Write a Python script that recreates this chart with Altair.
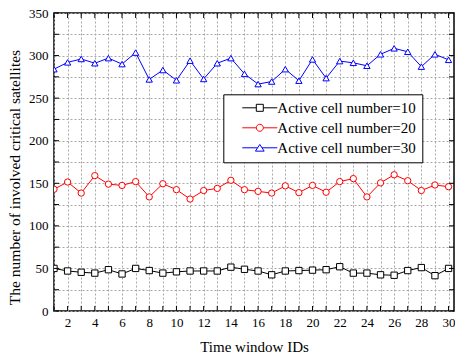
import altair as alt
import pandas as pd

time_ids = list(range(1, 31))
series_names = ["Active cell number=10", "Active cell number=20", "Active cell number=30"]
s10 = [50, 47, 45.5, 44.5, 48.5, 43.5, 50, 47.5, 44.5, 46, 47, 47, 47, 51.5, 49,
       47, 42.5, 47, 47.5, 48, 48.5, 52, 44.5, 44.5, 42.5, 42, 47.5, 51, 41.5, 50]
s20 = [143, 151.5, 138.5, 159, 149, 147.5, 152, 134, 149.5, 142.5, 131.5, 141.5, 144, 153.5, 142.5,
       140.5, 138.5, 147, 139, 147.5, 139.5, 152, 155.5, 134, 150.5, 160, 153, 141.5, 148, 146]
s30 = [284, 292, 296, 291, 297, 290, 303.5, 272, 283, 271, 294, 272.5, 291, 297, 278.5,
       266.5, 269.5, 284, 270.5, 295.5, 273.5, 293.5, 291.5, 288, 301.5, 308.5, 304.5, 287, 301.5, 295]
colors = ["#000000", "#ff0000", "#0000ff"]
shapes = ["square", "circle", "triangle-up"]
marker_sizes = [40, 40, 56]
legend_shapes = [
    "M-5,0H-1M1,0H5M-1,-1H1V1H-1Z",
    "M-5,0H-1M1,0A1,1 0 1,1 -1,0A1,1 0 1,1 1,0M1,0H5",
    "M-5,0H-0.63M0.63,0H5M0,-0.95L1.25,0.95L-1.25,0.95Z",
]
x_ticks = list(range(1, 31))
y_ticks = list(range(0, 351, 25))

rows = []
for name, vals in zip(series_names, [s10, s20, s30]):
    for t, v in zip(time_ids, vals):
        rows.append({"t": t, "v": v, "series": name})
df = pd.DataFrame(rows)
xt = pd.DataFrame({"t": x_ticks})
yt = pd.DataFrame({"v": y_ticks})

FONT = "Liberation Serif"
xscale = alt.Scale(domain=[1, 30.4], nice=False, zero=False)
yscale = alt.Scale(domain=[0, 350], nice=False)

x_axis = alt.Axis(
    values=x_ticks,
    labelExpr="datum.value % 2 == 0 ? datum.label : ''",
    title="Time window IDs",
    grid=True, ticks=False, tickSize=0, domain=False,
    labelPadding=5, labelFontSize=13, labelFont=FONT, labelColor="black",
    labelOverlap=False, labelFlush=False,
    titleFont=FONT, titleFontSize=15, titleFontWeight="normal", titleColor="black",
    titleY=40, titleBaseline="alphabetic",
)
y_axis = alt.Axis(
    values=y_ticks,
    labelExpr="datum.value % 50 == 0 ? datum.label : ''",
    title="The number of involved critical satellites",
    grid=True, ticks=False, tickSize=0, domain=False,
    labelPadding=6, labelFontSize=13, labelFont=FONT, labelColor="black",
    labelOverlap=False, labelFlush=False,
    titleFont=FONT, titleFontSize=15.5, titleFontWeight="normal", titleColor="black",
    titleX=-34.5, titleY=164, titleBaseline="alphabetic", titleAngle=270,
)

X = alt.X("t:Q", scale=xscale, axis=x_axis)
Y = alt.Y("v:Q", scale=yscale, axis=y_axis)

cscale = alt.Scale(domain=series_names, range=colors)

lines = alt.Chart(df).mark_line(strokeWidth=1, clip=True).encode(
    x=X, y=Y,
    color=alt.Color("series:N", scale=cscale, legend=None),
    detail="series:N",
)
points = alt.Chart(df).mark_point(fill="white", strokeWidth=1, opacity=1, clip=True).encode(
    x=X, y=Y,
    color=alt.Color("series:N", scale=cscale, legend=None),
    shape=alt.Shape("series:N", scale=alt.Scale(domain=series_names, range=shapes), legend=None),
    size=alt.Size("series:O", scale=alt.Scale(domain=series_names, range=marker_sizes), legend=None),
)

leg_spec = dict(
    title=None, orient="none", legendX=169.3, legendY=81.3,
    padding=6, rowPadding=4, symbolSize=49, symbolStrokeWidth=1,
    symbolFillColor="white", symbolOffset=23, labelOffset=10,
    labelFont=FONT, labelFontSize=15, labelColor="black", labelLimit=400,
    strokeColor="black", fillColor="white", labelBaseline="middle",
)
legend_layer = alt.Chart(df).transform_filter("false").mark_point(
    fill="white", strokeWidth=1, opacity=1
).encode(
    x=X, y=Y,
    color=alt.Color("series:N", scale=alt.Scale(domain=series_names, range=colors),
                    legend=alt.Legend(**leg_spec)),
    shape=alt.Shape("series:N", scale=alt.Scale(domain=series_names, range=legend_shapes),
                    legend=alt.Legend(**leg_spec)),
)

bottom_ticks = alt.Chart(xt).mark_rule(color="black", strokeWidth=1).encode(
    x=X, y=alt.value(298), y2=alt.value(293))
top_ticks = alt.Chart(xt).mark_rule(color="black", strokeWidth=1).encode(
    x=X, y=alt.value(0), y2=alt.value(5))
left_ticks = alt.Chart(yt).mark_rule(color="black", strokeWidth=1).encode(
    y=Y, x=alt.value(0), x2=alt.value(5))
right_ticks = alt.Chart(yt).mark_rule(color="black", strokeWidth=1).encode(
    y=Y, x=alt.value(400), x2=alt.value(395))

chart = alt.layer(
    lines, points, bottom_ticks, top_ticks, left_ticks, right_ticks, legend_layer
).resolve_scale(
    color="independent", shape="independent", size="independent"
).properties(
    width=400, height=298,
    padding={"left": 54, "top": 13, "right": 1, "bottom": 42},
    autosize=alt.AutoSizeParams(type="none"),
    background="white",
).configure_view(
    stroke="black", strokeWidth=1.5
).configure_axis(
    gridColor="#a8a8a8", gridDash=[2, 2], gridWidth=1, gridOpacity=1,
)

chart.save("out.html", embed_options={"renderer": "svg", "actions": False})
